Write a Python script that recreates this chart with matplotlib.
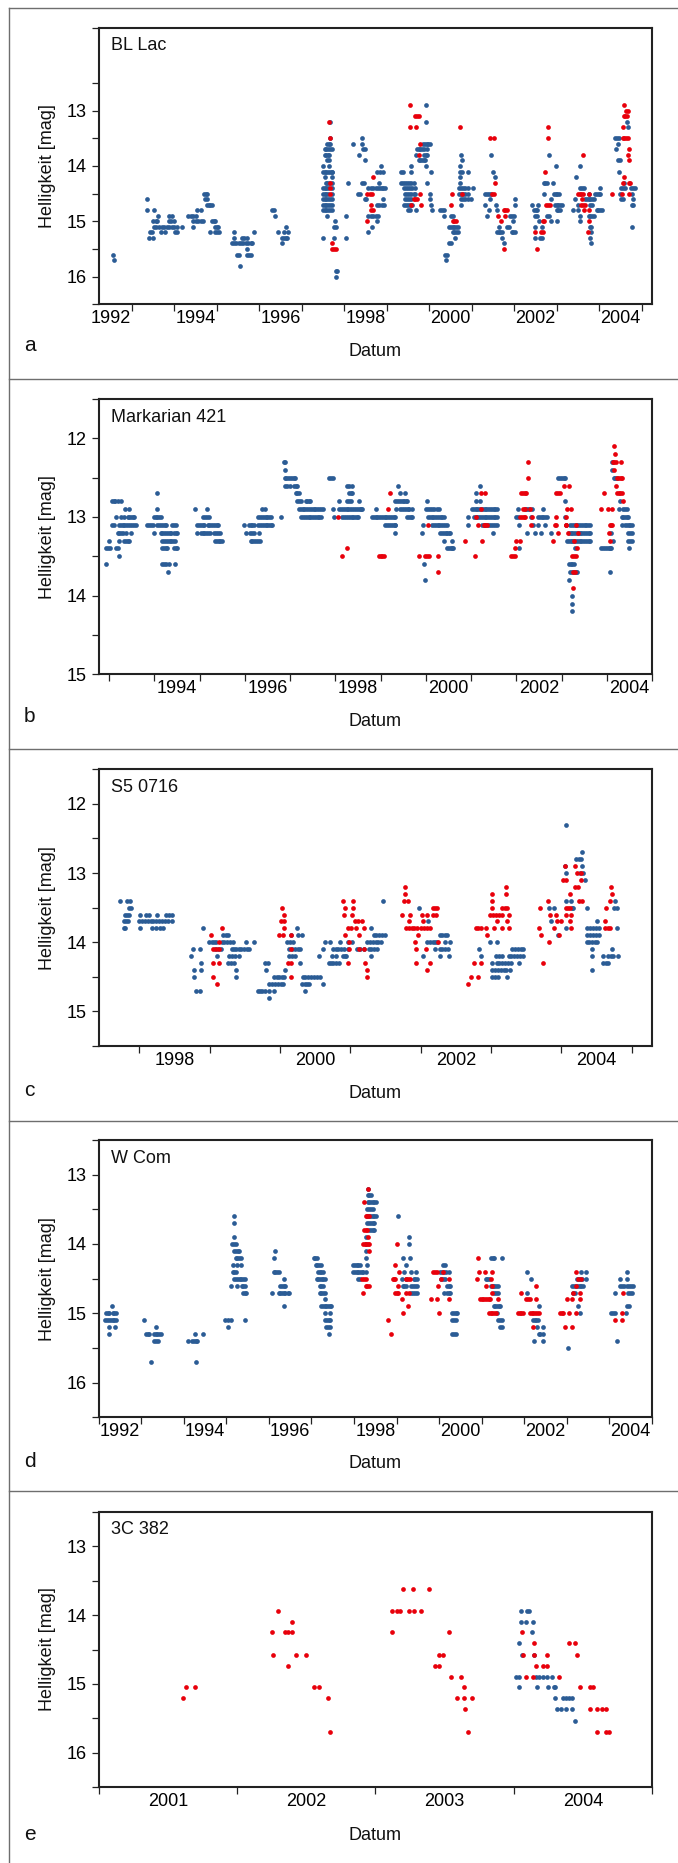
import numpy as np
import matplotlib
matplotlib.use("Agg")
import matplotlib.pyplot as plt
from matplotlib.lines import Line2D

plt.rcParams['font.family'] = ['Liberation Sans', 'DejaVu Sans']

# ---------------------------------------------------------------------------
# Light-curve data: each row is (magnitude, [observation dates in years])
# ---------------------------------------------------------------------------

# --- BL Lac ---
bllac_blue = [
    (15.6, [1992.57]), (15.7, [1992.59]),
    (14.6, [1993.35]), (14.8, [1993.36, 1993.52]),
    (14.9, [1993.61, 1993.87, 1993.94]),
    (15.0, [1993.50, 1993.56, 1993.60, 1993.87, 1993.93, 1993.99]),
    (15.1, [1993.52, 1993.58, 1993.64, 1993.70, 1993.76, 1993.82, 1993.88, 1993.94, 1994.00, 1994.06, 1994.19]),
    (15.2, [1993.44, 1993.48, 1993.68, 1993.78, 1994.01, 1994.07]),
    (15.3, [1993.40, 1993.50]),
    (14.5, [1994.70, 1994.74, 1994.77]), (14.6, [1994.73, 1994.78]),
    (14.7, [1994.77, 1994.81, 1994.85, 1994.89]), (14.8, [1994.54, 1994.63]),
    (14.9, [1994.33, 1994.40, 1994.45, 1994.52]),
    (15.0, [1994.45, 1994.50, 1994.56, 1994.62, 1994.68, 1994.89, 1994.93, 1994.97]),
    (15.1, [1994.45, 1994.95, 1995.00, 1995.03]),
    (15.2, [1994.84, 1994.97, 1995.01, 1995.05]),
    (15.2, [1995.41, 1995.88]), (15.3, [1995.41, 1995.60, 1995.64, 1995.72]),
    (15.4, [1995.36, 1995.41, 1995.46, 1995.52, 1995.57, 1995.62, 1995.68, 1995.74, 1995.80, 1995.84]),
    (15.5, [1995.72]), (15.6, [1995.48, 1995.52, 1995.72, 1995.76, 1995.80]), (15.8, [1995.55]),
    (14.8, [1996.30, 1996.34]), (14.9, [1996.36]), (15.1, [1996.64]),
    (15.2, [1996.45, 1996.58, 1996.68]), (15.3, [1996.53, 1996.58, 1996.62, 1996.66]), (15.4, [1996.54]),
    (13.2, [1997.66]), (13.5, [1997.66]), (13.6, [1997.60, 1997.64, 1997.66]),
    (13.7, [1997.54, 1997.58, 1997.62, 1997.66, 1997.70]),
    (13.8, [1997.54, 1997.58, 1997.62, 1997.64]), (13.9, [1997.60, 1997.64]),
    (14.0, [1997.50, 1997.64]),
    (14.1, [1997.50, 1997.54, 1997.58, 1997.62, 1997.66, 1997.70, 1997.72]),
    (14.2, [1997.54, 1997.70]), (14.3, [1997.56, 1997.60, 1997.64, 1997.70]),
    (14.4, [1997.50, 1997.54, 1997.58, 1997.62, 1997.70]),
    (14.5, [1997.50, 1997.54, 1997.58, 1997.62, 1997.70]),
    (14.6, [1997.50, 1997.54, 1997.58, 1997.62, 1997.66, 1997.70]),
    (14.7, [1997.50, 1997.54, 1997.58, 1997.62, 1997.66, 1997.70]),
    (14.8, [1997.50, 1997.54, 1997.58, 1997.62, 1997.66, 1997.70]),
    (14.9, [1997.60]), (15.0, [1997.78]), (15.1, [1997.76, 1997.80]), (15.3, [1997.50, 1997.76]),
    (15.9, [1997.80, 1997.83]), (16.0, [1997.81]),
    (13.5, [1998.41]), (13.6, [1998.20, 1998.41]), (13.7, [1998.45, 1998.48]), (13.8, [1998.34]),
    (13.9, [1998.48]), (14.0, [1998.87]), (14.1, [1998.77, 1998.83, 1998.90]),
    (14.3, [1998.09, 1998.41, 1998.46, 1998.81]),
    (14.4, [1998.56, 1998.62, 1998.68, 1998.74, 1998.80, 1998.84, 1998.88, 1998.92, 1998.95]),
    (14.5, [1998.33, 1998.36]), (14.6, [1998.48, 1998.52, 1998.92]),
    (14.7, [1998.76, 1998.82, 1998.88, 1998.94]),
    (14.9, [1998.05, 1998.56, 1998.62, 1998.68, 1998.74, 1998.80]),
    (15.0, [1998.77]), (15.1, [1998.66]), (15.2, [1998.56]), (15.3, [1998.05]),
    (12.9, [1999.92]), (13.2, [1999.92]),
    (13.6, [1999.86, 1999.90, 1999.94, 1999.98, 2000.02]),
    (13.7, [1999.71, 1999.75, 1999.79, 1999.83, 1999.87, 1999.94]),
    (13.8, [1999.69, 1999.87, 1999.92, 1999.94]),
    (13.9, [1999.75, 1999.79, 1999.83, 1999.88, 1999.91]),
    (14.0, [1999.58, 1999.92]), (14.1, [1999.34, 1999.38, 1999.56, 2000.05]),
    (14.3, [1999.34, 1999.38, 1999.43, 1999.48, 1999.53, 1999.58, 1999.63, 1999.94]),
    (14.4, [1999.40, 1999.45, 1999.50, 1999.55, 1999.60, 1999.67]),
    (14.5, [1999.43, 1999.48, 1999.53, 1999.58, 1999.63, 1999.67, 2000.01]),
    (14.6, [1999.43, 1999.47, 1999.52, 1999.57, 2000.02]),
    (14.7, [1999.40, 1999.45, 1999.50, 1999.55, 1999.60, 2000.04]),
    (14.8, [1999.50, 1999.55, 1999.69, 2000.06]),
    (13.8, [2000.75]), (13.9, [2000.77]), (14.0, [2000.73]), (14.1, [2000.73, 2000.77, 2000.91]),
    (14.2, [2000.73]), (14.3, [2000.73]),
    (14.4, [2000.70, 2000.75, 2000.80, 2000.85, 2000.91, 2001.04]),
    (14.5, [2000.70, 2000.75, 2000.80, 2000.85, 2000.91]),
    (14.6, [2000.75, 2000.80, 2000.85, 2000.91, 2000.99]), (14.7, [2000.75]),
    (14.8, [2000.26, 2000.30, 2000.34]), (14.9, [2000.34, 2000.51, 2000.55]),
    (15.1, [2000.47, 2000.51, 2000.55, 2000.59, 2000.63, 2000.67]),
    (15.2, [2000.55, 2000.59, 2000.63, 2000.67]), (15.3, [2000.60]),
    (15.4, [2000.47, 2000.51]), (15.6, [2000.38, 2000.42]), (15.7, [2000.40]),
    (13.8, [2001.45]), (14.1, [2001.50]), (14.2, [2001.55]),
    (14.5, [2001.32, 2001.36, 2001.40, 2001.45]), (14.6, [2001.43, 2002.01]),
    (14.7, [2001.30, 2001.57, 2002.01]), (14.8, [2001.40, 2001.59]),
    (14.9, [2001.36, 2001.91, 2001.95, 2001.99]), (15.0, [2001.98]),
    (15.1, [2001.65, 2001.82, 2001.87]),
    (15.2, [2001.59, 2001.63, 2001.67, 2001.71, 2001.94, 2001.98, 2002.02]),
    (15.3, [2001.71]), (15.4, [2001.75]),
    (13.8, [2002.82]), (14.0, [2002.98]), (14.3, [2002.69, 2002.73, 2002.77, 2002.91]),
    (14.5, [2002.69, 2002.93, 2002.97, 2003.01, 2003.05]), (14.6, [2002.86]),
    (14.7, [2002.42, 2002.55, 2002.96, 2003.00, 2003.04, 2003.08, 2003.12]),
    (14.8, [2002.46, 2002.50, 2002.54, 2003.00, 2003.04, 2003.08]),
    (14.9, [2002.49, 2002.53, 2002.77, 2002.81]), (15.0, [2002.57, 2002.86, 2003.00]),
    (15.1, [2002.49, 2002.65]), (15.3, [2002.48, 2002.61, 2002.65]),
    (14.0, [2003.55]), (14.2, [2003.45]), (14.4, [2003.55, 2003.59, 2003.63, 2004.02]),
    (14.5, [2003.76, 2003.91, 2003.95, 2003.99, 2004.02]),
    (14.6, [2003.42, 2003.67, 2003.71, 2003.75, 2003.79, 2003.83, 2003.87]),
    (14.7, [2003.51, 2003.79, 2003.84]),
    (14.8, [2003.38, 2003.51, 2003.94, 2003.98, 2004.02, 2004.06]),
    (14.9, [2003.55, 2003.75, 2003.79, 2003.83, 2003.87]), (15.0, [2003.55]),
    (15.1, [2003.77, 2003.81]), (15.2, [2003.81]), (15.3, [2003.79]), (15.4, [2003.81]),
    (13.2, [2004.65]), (13.3, [2004.67]), (13.5, [2004.38, 2004.42, 2004.46]),
    (13.6, [2004.43]), (13.7, [2004.40]), (13.9, [2004.45, 2004.49]), (14.1, [2004.47]),
    (14.3, [2004.57]), (14.4, [2004.52, 2004.56, 2004.60, 2004.75, 2004.79, 2004.85]),
    (14.5, [2004.49, 2004.77]), (14.6, [2004.52, 2004.56, 2004.79]),
    (14.7, [2004.77, 2004.79]), (15.1, [2004.78]),
]
bllac_red = [
    (13.2, [1997.64]), (13.5, [1997.67]), (14.3, [1997.67]), (14.4, [1997.66]), (14.5, [1997.66]),
    (15.4, [1997.72]), (15.5, [1997.72, 1997.76, 1997.81]),
    (14.2, [1998.68]), (14.5, [1998.54, 1998.60, 1998.66]), (14.7, [1998.64]),
    (14.8, [1998.62, 1998.68]), (15.0, [1998.54]),
    (12.9, [1999.54]), (13.1, [1999.67, 1999.72, 1999.76]), (13.3, [1999.54, 1999.69]),
    (13.6, [1999.77]), (13.8, [1999.75]), (14.5, [1999.79]),
    (14.6, [1999.63, 1999.67, 1999.71]), (14.7, [1999.58, 1999.81]),
    (13.3, [2000.73]), (14.5, [2000.53, 2000.78]), (14.7, [2000.52]),
    (15.0, [2000.55, 2000.59, 2000.63]),
    (13.5, [2001.43, 2001.52]), (14.3, [2001.55]), (14.5, [2001.47, 2001.52]),
    (14.8, [2001.75, 2001.79, 2001.83]), (14.9, [2001.61, 2001.77]), (15.0, [2001.69]), (15.5, [2001.75]),
    (13.3, [2002.79]), (13.5, [2002.79]), (14.1, [2002.73]), (14.7, [2002.75, 2002.79, 2002.83]),
    (15.0, [2002.67, 2002.71]), (15.2, [2002.49, 2002.63, 2002.67]), (15.5, [2002.53]),
    (13.8, [2003.62]), (14.5, [2003.50, 2003.54, 2003.58, 2003.62, 2003.75]), (14.6, [2003.59]),
    (14.7, [2003.58, 2003.62, 2003.66]), (14.8, [2003.65, 2003.76]), (15.0, [2003.76]), (15.2, [2003.73]),
    (12.9, [2004.59]), (13.0, [2004.63, 2004.67]), (13.1, [2004.57, 2004.61, 2004.66]),
    (13.3, [2004.55]), (13.5, [2004.55, 2004.59, 2004.63, 2004.67]), (13.7, [2004.69]),
    (13.8, [2004.68]), (13.9, [2004.69]), (14.2, [2004.57]), (14.3, [2004.55, 2004.69, 2004.73]),
    (14.5, [2004.30, 2004.53, 2004.71]),
]

# --- Markarian 421 ---
mrk421_blue = [
    (13.6, [1992.94]), (13.4, [1992.93, 1992.98, 1993.03, 1993.15, 1993.20]),
    (13.3, [1993.00, 1993.22, 1993.33, 1993.37, 1993.41, 1993.44]),
    (12.8, [1993.06, 1993.10, 1993.14, 1993.19, 1993.26]),
    (13.1, [1993.06, 1993.11, 1993.22, 1993.26, 1993.30, 1993.34, 1993.38, 1993.42, 1993.46, 1993.50, 1993.55, 1993.59]),
    (13.0, [1993.16, 1993.26, 1993.33, 1993.41, 1993.45, 1993.49, 1993.52, 1993.55]),
    (12.9, [1993.36, 1993.44]), (13.2, [1993.19, 1993.23, 1993.27, 1993.30, 1993.37, 1993.48]),
    (13.5, [1993.22]),
    (12.7, [1994.07]), (12.9, [1994.07]), (13.0, [1993.99, 1994.03, 1994.07, 1994.11, 1994.14]),
    (13.1, [1993.85, 1993.89, 1993.93, 1993.97, 1994.07, 1994.11, 1994.15, 1994.19, 1994.23, 1994.25, 1994.39, 1994.43, 1994.47]),
    (13.2, [1993.99, 1994.14, 1994.18, 1994.22, 1994.26, 1994.30, 1994.34, 1994.37, 1994.44, 1994.48, 1994.51]),
    (13.3, [1994.18, 1994.22, 1994.26, 1994.30, 1994.34, 1994.38, 1994.42, 1994.46]),
    (13.4, [1994.18, 1994.22, 1994.26, 1994.29, 1994.44, 1994.48, 1994.51]),
    (13.6, [1994.18, 1994.22, 1994.26, 1994.33, 1994.46]), (13.7, [1994.30]),
    (12.9, [1994.90, 1995.16]), (13.0, [1995.08, 1995.12, 1995.16, 1995.20]),
    (13.1, [1994.95, 1994.99, 1995.03, 1995.07, 1995.10, 1995.18, 1995.22, 1995.26, 1995.30, 1995.34, 1995.38, 1995.40]),
    (13.2, [1994.95, 1995.03, 1995.07, 1995.11, 1995.15, 1995.19, 1995.23, 1995.32, 1995.36, 1995.40, 1995.45]),
    (13.3, [1995.34, 1995.38, 1995.42, 1995.46, 1995.50]),
    (13.1, [1995.99, 1996.09, 1996.13, 1996.17, 1996.20]),
    (13.2, [1996.02, 1996.11, 1996.15, 1996.20, 1996.32]),
    (13.3, [1996.13, 1996.17, 1996.21, 1996.25, 1996.29, 1996.33]),
    (13.1, [1996.30, 1996.34, 1996.38, 1996.42, 1996.46, 1996.50, 1996.54, 1996.58, 1996.60]),
    (13.0, [1996.30, 1996.34, 1996.38, 1996.42, 1996.46, 1996.50, 1996.54, 1996.57]),
    (12.9, [1996.39, 1996.45]),
    (13.0, [1996.81]), (12.3, [1996.86, 1996.90]), (12.4, [1996.90]),
    (12.5, [1996.88, 1996.92, 1996.96, 1997.00, 1997.04, 1997.08, 1997.12]),
    (12.6, [1996.90, 1996.94, 1996.99, 1997.09, 1997.13, 1997.16]),
    (12.7, [1997.13, 1997.16, 1997.20]),
    (12.8, [1997.16, 1997.20, 1997.24, 1997.35, 1997.38, 1997.42, 1997.45]),
    (12.9, [1997.20, 1997.24, 1997.28, 1997.32, 1997.36, 1997.40, 1997.44, 1997.48, 1997.52, 1997.56, 1997.60, 1997.64, 1997.68, 1997.72]),
    (13.0, [1997.25, 1997.29, 1997.33, 1997.37, 1997.41, 1997.45, 1997.49, 1997.53, 1997.57, 1997.61, 1997.64, 1997.68]),
    (12.5, [1997.86, 1997.90, 1997.94]),
    (12.9, [1997.94, 1998.09, 1998.13, 1998.17, 1998.21, 1998.25, 1998.29, 1998.32, 1998.38, 1998.42, 1998.46, 1998.50, 1998.54, 1998.58, 1998.60]),
    (12.8, [1998.09, 1998.27, 1998.31, 1998.35, 1998.52]), (12.6, [1998.27, 1998.31, 1998.36]),
    (12.7, [1998.30, 1998.34, 1998.38]),
    (13.0, [1997.97, 1998.16, 1998.20, 1998.24, 1998.28, 1998.32, 1998.36, 1998.40, 1998.44, 1998.48, 1998.51]),
    (12.9, [1998.89, 1999.34, 1999.44, 1999.48, 1999.52, 1999.56, 1999.60, 1999.64, 1999.70]),
    (13.0, [1998.81, 1998.85, 1998.89, 1998.93, 1998.97, 1999.01, 1999.05, 1999.09, 1999.13, 1999.17, 1999.21, 1999.25, 1999.29, 1999.33, 1999.59, 1999.63, 1999.67, 1999.70]),
    (13.1, [1999.11, 1999.15, 1999.19, 1999.23, 1999.27, 1999.31, 1999.33]), (13.2, [1999.31]),
    (12.6, [1999.39]), (12.7, [1999.44, 1999.55]),
    (12.8, [1999.33, 1999.37, 1999.41, 1999.45, 1999.49, 1999.53, 1999.57, 1999.59]),
    (13.2, [1999.92]), (13.6, [1999.97]), (13.8, [1999.98]),
    (13.1, [1999.94, 2000.14, 2000.18, 2000.22, 2000.26, 2000.30, 2000.34, 2000.38, 2000.42, 2000.47]),
    (12.8, [2000.03]), (12.9, [2000.00, 2000.05, 2000.09, 2000.14, 2000.19, 2000.24, 2000.29]),
    (13.0, [2000.05, 2000.09, 2000.13, 2000.17, 2000.21, 2000.25, 2000.29, 2000.33, 2000.37, 2000.40]),
    (13.2, [2000.32, 2000.36, 2000.40, 2000.44, 2000.48, 2000.52, 2000.54]),
    (13.3, [2000.40, 2000.57]), (13.4, [2000.47, 2000.51, 2000.55, 2000.59, 2000.61]),
    (13.1, [2000.94, 2001.24, 2001.28, 2001.32, 2001.36, 2001.40, 2001.44, 2001.48, 2001.52, 2001.57]),
    (13.0, [2000.93, 2001.06, 2001.10, 2001.14, 2001.18, 2001.22, 2001.26, 2001.30, 2001.34, 2001.38, 2001.42, 2001.46, 2001.50, 2001.54, 2001.57]),
    (12.9, [2001.02, 2001.06, 2001.10, 2001.14, 2001.18, 2001.22, 2001.26, 2001.30, 2001.34, 2001.38, 2001.42, 2001.46, 2001.50, 2001.54, 2001.57]),
    (12.8, [2001.12, 2001.20]), (12.7, [2001.12]), (12.6, [2001.19]), (13.2, [2001.48]),
    (13.4, [2002.07]), (13.1, [2002.07, 2002.38, 2002.49, 2002.64]),
    (12.9, [2002.03, 2002.20, 2002.24, 2002.29, 2002.35, 2002.60]),
    (13.0, [2002.00, 2002.04, 2002.33, 2002.48, 2002.52, 2002.56, 2002.60, 2002.64, 2002.68]),
    (13.2, [2002.24, 2002.42, 2002.54]),
    (12.5, [2002.93, 2002.97, 2003.01, 2003.05, 2003.08]), (12.8, [2003.08]), (13.0, [2003.08]),
    (13.2, [2002.77, 2003.16, 2003.20, 2003.24, 2003.28, 2003.32, 2003.36, 2003.40, 2003.44, 2003.48, 2003.52, 2003.56, 2003.60, 2003.64]),
    (13.1, [2003.10, 2003.19, 2003.23, 2003.27, 2003.31, 2003.35, 2003.39, 2003.43, 2003.47, 2003.51, 2003.55, 2003.59, 2003.64]),
    (13.3, [2003.12, 2003.16, 2003.20, 2003.24, 2003.28, 2003.32, 2003.36, 2003.40, 2003.44, 2003.48, 2003.52, 2003.56, 2003.60, 2003.64]),
    (13.4, [2003.30]), (13.6, [2003.16, 2003.20, 2003.24, 2003.27]),
    (13.7, [2003.19, 2003.23, 2003.27, 2003.31, 2003.34]), (13.8, [2003.16]),
    (14.0, [2003.24]), (14.1, [2003.24]), (14.2, [2003.24]),
    (13.4, [2003.88, 2003.92, 2003.96, 2004.00, 2004.04, 2004.08, 2004.10, 2004.50]),
    (13.7, [2004.07]), (13.2, [2004.10, 2004.48, 2004.52, 2004.55]),
    (13.3, [2004.13, 2004.48, 2004.52, 2004.55]), (12.3, [2004.11]), (12.4, [2004.11]),
    (12.5, [2004.15, 2004.19, 2004.22]), (12.8, [2004.30]),
    (12.9, [2004.26, 2004.37, 2004.41, 2004.45]), (13.0, [2004.33, 2004.37, 2004.41, 2004.45, 2004.48]),
    (13.1, [2004.33, 2004.41, 2004.45, 2004.49, 2004.52, 2004.55]),
]
mrk421_red = [
    (13.0, [1998.07]), (13.4, [1998.27]), (13.5, [1998.14]),
    (13.5, [1998.96, 1999.00, 1999.03, 1999.07]), (12.7, [1999.22]), (12.9, [1999.16]),
    (13.5, [1999.84, 1999.99, 2000.03, 2000.08, 2000.26]), (13.7, [2000.26]), (13.1, [2000.04]),
    (13.3, [2000.87, 2001.25]), (12.7, [2001.23, 2001.32]), (12.9, [2001.22]), (13.0, [2001.12]),
    (13.1, [2001.15, 2001.28, 2001.32, 2001.35]), (13.5, [2001.08]),
    (13.5, [2001.89, 2001.93, 2001.98]), (13.4, [2001.98]), (13.3, [2001.99, 2002.09]),
    (13.0, [2002.09, 2002.13, 2002.17, 2002.20, 2002.35]), (12.7, [2002.11, 2002.15, 2002.19, 2002.21]),
    (12.9, [2002.16, 2002.20, 2002.30]), (12.3, [2002.27]), (12.5, [2002.27]), (13.1, [2002.32]),
    (12.6, [2003.05, 2003.17]), (12.7, [2002.88, 2002.92, 2002.97]), (12.9, [2003.12, 2003.21]),
    (13.0, [2002.88, 2003.11]), (13.1, [2002.85, 2002.87, 2003.09, 2003.11, 2003.32]),
    (13.2, [2002.92, 2003.14, 2003.36]), (13.3, [2002.81, 2003.27]), (13.4, [2003.34]),
    (13.5, [2003.23, 2003.27, 2003.32]), (13.7, [2003.26, 2003.30]), (13.9, [2003.25]),
    (12.1, [2004.17]), (12.2, [2004.19]), (12.3, [2004.13, 2004.17, 2004.21, 2004.32]),
    (12.4, [2004.15]), (12.5, [2004.23, 2004.27, 2004.31, 2004.34]), (12.6, [2004.21]),
    (12.7, [2003.93, 2004.22, 2004.26, 2004.30, 2004.33]), (12.8, [2004.35]),
    (12.9, [2003.87, 2004.02, 2004.11]), (13.1, [2004.07, 2004.09, 2004.11]),
    (13.2, [2004.05]), (13.3, [2004.08]),
]

# --- S5 0716 ---
s50716_blue = [
    (13.4, [1997.73, 1997.83, 1997.86]), (13.5, [1997.85, 1997.88]),
    (13.6, [1997.80, 1997.83, 1997.85, 1998.01, 1998.10, 1998.14, 1998.25, 1998.38, 1998.42, 1998.46]),
    (13.7, [1997.78, 1997.81, 1997.84, 1998.00, 1998.04, 1998.08, 1998.12, 1998.16, 1998.20, 1998.24, 1998.28, 1998.32, 1998.36, 1998.40, 1998.46]),
    (13.8, [1997.78, 1997.80, 1998.01, 1998.18, 1998.23, 1998.29, 1998.33]),
    (13.8, [1998.91]),
    (14.0, [1998.99, 1999.03, 1999.06, 1999.09, 1999.17, 1999.21, 1999.25, 1999.29, 1999.33, 1999.51, 1999.63]),
    (13.9, [1999.19, 1999.23, 1999.26]),
    (14.1, [1998.76, 1998.86, 1999.08, 1999.12, 1999.16, 1999.31, 1999.35, 1999.38, 1999.41, 1999.45, 1999.49, 1999.53, 1999.56]),
    (14.2, [1998.73, 1999.11, 1999.27, 1999.31, 1999.36, 1999.41]),
    (14.3, [1998.88, 1999.26, 1999.30, 1999.34]), (14.4, [1998.78, 1998.87, 1999.37]),
    (14.5, [1998.78, 1999.38]), (14.7, [1998.81, 1998.86]),
    (14.7, [1999.69, 1999.72, 1999.75, 1999.79, 1999.84, 1999.91]), (14.8, [1999.85]),
    (14.4, [1999.80, 2000.07]), (14.3, [1999.79, 1999.83]),
    (14.6, [1999.85, 1999.89, 1999.93, 1999.97, 2000.01, 2000.04, 2000.31, 2000.35, 2000.39, 2000.41, 2000.61]),
    (14.5, [1999.91, 1999.95, 1999.99, 2000.03, 2000.06, 2000.32, 2000.36, 2000.40, 2000.44, 2000.49, 2000.53, 2000.57]),
    (14.2, [2000.13, 2000.17, 2000.21]), (14.0, [2000.10, 2000.14, 2000.19]),
    (13.9, [2000.16, 2000.25, 2000.31]), (13.8, [2000.24]),
    (14.1, [2000.13, 2000.17, 2000.21, 2000.25, 2000.29]), (14.3, [2000.28]), (14.7, [2000.35]),
    (14.2, [2000.55, 2000.74, 2000.79, 2000.89, 2000.92, 2000.94, 2001.29]),
    (14.1, [2000.61, 2000.75, 2000.79, 2000.83, 2000.87, 2000.91, 2000.96, 2001.09, 2001.14, 2001.19, 2001.26, 2001.30, 2001.34, 2001.38]),
    (14.0, [2000.64, 2000.71, 2000.86, 2000.96, 2001.02, 2001.24, 2001.28, 2001.32, 2001.36, 2001.40, 2001.44]),
    (14.3, [2000.69, 2000.72, 2000.75, 2000.79, 2000.84]),
    (13.9, [2001.33, 2001.37, 2001.41, 2001.45, 2001.50]), (13.8, [2001.30]), (13.4, [2001.46]),
    (13.5, [2001.98]), (13.7, [2002.10]), (14.2, [2002.04]),
    (14.0, [2002.09, 2002.13, 2002.17, 2002.21, 2002.23, 2002.35, 2002.42]),
    (14.1, [2002.21, 2002.27, 2002.31, 2002.35, 2002.39]), (14.2, [2002.28, 2002.41]),
    (13.9, [2002.27, 2002.31, 2002.35, 2002.37]),
    (14.1, [2002.83, 2003.30, 2003.34, 2003.38, 2003.42, 2003.45]),
    (14.2, [2002.86, 2003.07, 2003.11, 2003.15, 2003.25, 2003.29, 2003.33, 2003.37, 2003.41, 2003.45]),
    (14.0, [2002.98, 2003.09]),
    (14.3, [2003.02, 2003.08, 2003.12, 2003.16, 2003.20, 2003.24, 2003.28, 2003.40]),
    (14.4, [2003.02, 2003.06, 2003.10, 2003.14, 2003.18, 2003.22, 2003.27]),
    (14.5, [2003.02, 2003.06, 2003.10, 2003.23]),
    (12.3, [2004.06]), (12.7, [2004.30]), (12.8, [2004.21, 2004.25, 2004.28]),
    (12.9, [2004.05, 2004.30]), (13.0, [2004.06, 2004.27, 2004.31]), (13.1, [2004.34]),
    (13.4, [2004.06, 2004.14, 2004.76]),
    (13.5, [2003.82, 2003.90, 2004.15, 2004.17, 2004.37, 2004.75, 2004.79]),
    (13.7, [2003.85, 2004.51]),
    (13.8, [2004.07, 2004.37, 2004.41, 2004.45, 2004.49, 2004.53, 2004.79]),
    (13.9, [2003.96, 2004.37, 2004.41, 2004.45, 2004.49, 2004.53]),
    (14.0, [2004.36, 2004.40, 2004.44, 2004.48, 2004.51]), (14.1, [2004.43, 2004.72]),
    (14.2, [2004.43, 2004.60, 2004.67, 2004.71, 2004.74, 2004.81]),
    (14.3, [2004.60, 2004.64, 2004.67]), (14.4, [2004.43]),
]
s50716_red = [
    (13.9, [1999.02]), (13.8, [1999.17]), (14.0, [1999.13]), (14.1, [1999.04, 1999.09, 1999.13]),
    (14.3, [1999.04, 1999.13]), (14.5, [1999.04]), (14.6, [1999.10]),
    (13.5, [2000.03]), (13.6, [2000.06]), (13.7, [2000.01, 2000.06]), (13.8, [2000.05]),
    (13.9, [1999.99, 2000.04, 2000.16]), (14.1, [2000.16]), (14.3, [2000.11, 2000.16]), (14.5, [2000.16]),
    (13.4, [2000.90, 2001.04]), (13.5, [2000.92, 2001.04]), (13.6, [2000.91, 2001.03]),
    (13.7, [2001.07, 2001.11, 2001.16]), (13.8, [2000.97, 2001.01, 2001.08, 2001.19]),
    (13.9, [2000.92, 2001.12]), (14.0, [2000.98]), (14.1, [2000.98, 2001.13, 2001.20]),
    (14.3, [2000.96, 2001.21]), (14.4, [2001.23]), (14.5, [2001.24]),
    (13.2, [2001.78]), (13.3, [2001.78]), (13.4, [2001.77, 2001.82]), (13.5, [2002.18, 2002.21, 2002.23]),
    (13.6, [2001.74, 2001.85, 2002.02, 2002.09, 2002.17, 2002.22]), (13.7, [2001.83, 2002.04]),
    (13.8, [2001.79, 2001.83, 2001.87, 2001.91, 2001.95, 2002.01, 2002.05, 2002.09, 2002.14]),
    (13.9, [2001.96]), (14.0, [2001.92, 2002.24]), (14.1, [2001.93, 2002.07]),
    (14.3, [2001.93, 2002.14]), (14.4, [2002.09]),
    (14.6, [2002.68]), (14.5, [2002.71, 2002.82]), (14.3, [2002.76, 2002.86]),
    (13.8, [2002.78, 2002.82, 2002.86, 2002.93, 2003.05, 2003.15, 2003.25]), (13.9, [2002.94]),
    (13.3, [2003.01, 2003.22]), (13.4, [2003.01]), (13.5, [2003.01, 2003.16, 2003.20, 2003.23]),
    (13.6, [2002.99, 2003.03, 2003.07, 2003.11, 2003.15, 2003.25]), (13.7, [2003.08, 2003.23]),
    (13.2, [2003.22]),
    (14.3, [2003.74]), (13.5, [2003.70]), (13.8, [2003.68, 2003.89, 2004.14, 2004.62, 2004.66, 2004.69]),
    (13.9, [2003.71, 2003.97]), (13.4, [2003.81, 2004.25, 2004.29, 2004.69]),
    (13.6, [2003.84, 2003.92, 2004.07, 2004.14]), (14.0, [2003.83]),
    (13.7, [2003.94, 2003.99, 2004.12, 2004.62]), (13.1, [2004.03, 2004.07, 2004.28]),
    (12.9, [2004.05, 2004.20]), (13.3, [2004.12, 2004.72]), (13.5, [2004.07, 2004.10, 2004.12, 2004.64]),
    (13.0, [2004.22, 2004.28]), (13.2, [2004.20, 2004.24, 2004.70]),
]

# --- W Com ---
wcom_blue = [
    (14.9, [1992.31]), (15.0, [1992.17, 1992.21, 1992.25, 1992.33, 1992.37, 1992.41]),
    (15.1, [1992.16, 1992.20, 1992.24, 1992.28, 1992.33, 1992.37, 1992.41]),
    (15.2, [1992.24, 1992.39]), (15.3, [1992.24]),
    (15.1, [1993.07]), (15.2, [1993.36]),
    (15.3, [1993.11, 1993.15, 1993.19, 1993.30, 1993.34, 1993.38, 1993.42, 1993.46]),
    (15.4, [1993.31, 1993.35, 1993.39]), (15.7, [1993.23]),
    (15.4, [1994.11, 1994.19, 1994.24, 1994.28, 1994.32]), (15.3, [1994.26, 1994.45]), (15.7, [1994.29]),
    (15.1, [1994.98, 1995.03, 1995.11, 1995.43]), (15.2, [1995.03]),
    (13.6, [1995.18]), (13.7, [1995.18]), (13.9, [1995.18]), (14.0, [1995.13, 1995.18, 1995.22]),
    (14.1, [1995.19, 1995.23, 1995.27, 1995.30]), (14.2, [1995.22, 1995.26, 1995.30, 1995.34]),
    (14.3, [1995.15, 1995.25, 1995.35]), (14.4, [1995.15, 1995.19, 1995.23]),
    (14.5, [1995.19, 1995.23, 1995.27, 1995.31, 1995.35, 1995.39, 1995.44]),
    (14.6, [1995.11, 1995.25, 1995.36, 1995.40, 1995.44]), (14.7, [1995.40, 1995.43, 1995.46]),
    (14.1, [1996.15]), (14.2, [1996.13]), (14.4, [1996.11, 1996.15, 1996.19, 1996.23]), (14.5, [1996.36]),
    (14.6, [1996.27, 1996.31, 1996.35, 1996.39]),
    (14.7, [1996.08, 1996.23, 1996.27, 1996.31, 1996.35, 1996.39, 1996.44, 1996.48]), (14.9, [1996.36]),
    (14.2, [1997.05, 1997.09, 1997.13]), (14.3, [1997.10, 1997.14, 1997.18, 1997.22]),
    (14.4, [1997.15, 1997.19, 1997.23, 1997.27]),
    (14.5, [1997.12, 1997.16, 1997.20, 1997.24, 1997.28, 1997.31]),
    (14.6, [1997.19, 1997.23, 1997.27]), (14.7, [1997.19, 1997.23, 1997.27, 1997.31]), (14.8, [1997.31]),
    (14.9, [1997.23, 1997.27, 1997.31, 1997.35, 1997.39, 1997.43, 1997.47]), (15.0, [1997.31, 1997.44]),
    (15.1, [1997.33, 1997.37, 1997.41, 1997.44]), (15.2, [1997.35, 1997.39, 1997.44]), (15.3, [1997.41]),
    (14.3, [1997.98, 1998.02, 1998.06, 1998.10, 1998.14, 1998.31]),
    (14.4, [1997.98, 1998.02, 1998.06, 1998.10, 1998.14, 1998.18, 1998.22, 1998.27]),
    (14.5, [1998.09, 1998.14]), (13.2, [1998.33]), (13.3, [1998.32, 1998.36, 1998.39]),
    (13.4, [1998.32, 1998.36, 1998.40, 1998.44, 1998.48, 1998.52]),
    (13.5, [1998.31, 1998.35, 1998.39, 1998.44]),
    (13.6, [1998.31, 1998.35, 1998.40, 1998.44, 1998.48, 1998.52]),
    (13.7, [1998.31, 1998.35, 1998.39, 1998.44, 1998.48]), (13.8, [1998.35, 1998.39, 1998.44, 1998.48]),
    (13.9, [1998.27]), (14.0, [1998.27]), (14.1, [1998.27]), (14.2, [1998.27]),
    (13.6, [1999.03]), (13.9, [1999.29]), (14.0, [1999.29]), (14.2, [1999.14, 1999.32]), (14.3, [1999.22]),
    (14.4, [1999.18, 1999.35, 1999.46]), (14.5, [1999.12, 1999.22, 1999.41, 1999.44, 1999.47]),
    (14.6, [1999.14, 1999.18, 1999.22, 1999.35, 1999.39, 1999.43, 1999.47]),
    (14.7, [1999.35, 1999.39, 1999.43, 1999.47]),
    (14.3, [2000.10, 2000.14]), (14.4, [2000.01, 2000.06, 2000.11, 2000.16, 2000.22]),
    (14.5, [2000.05, 2000.10, 2000.14]), (14.6, [2000.18, 2000.22, 2000.26]),
    (14.7, [2000.12, 2000.18, 2000.22, 2000.26]), (15.0, [2000.30, 2000.35, 2000.39, 2000.43]),
    (15.1, [2000.30, 2000.35, 2000.39]), (15.3, [2000.30, 2000.35, 2000.39]),
    (14.2, [2001.22, 2001.26, 2001.30, 2001.47]), (14.5, [2001.09, 2001.13, 2001.17]),
    (14.6, [2001.22, 2001.26, 2001.30, 2001.34, 2001.39]), (14.7, [2001.30, 2001.34, 2001.39]),
    (14.9, [2001.28, 2001.32, 2001.36, 2001.40, 2001.43]), (15.0, [2001.37]),
    (15.1, [2001.39, 2001.43, 2001.47]), (15.2, [2001.43, 2001.47]),
    (14.4, [2002.07]), (14.5, [2002.15]), (14.7, [2002.07]), (14.9, [2002.34]),
    (15.1, [2002.20, 2002.24, 2002.28, 2002.32]), (15.2, [2002.30, 2002.43]),
    (15.3, [2002.34, 2002.38, 2002.43]), (15.4, [2002.23, 2002.43]),
    (15.5, [2003.03]), (14.9, [2003.26]), (15.0, [2003.30]),
    (14.6, [2003.13, 2003.17, 2003.21, 2003.26, 2003.30, 2003.34, 2003.38]), (14.7, [2003.15, 2003.20]),
    (14.5, [2003.24, 2003.28, 2003.32, 2003.36, 2003.45]), (14.4, [2003.34, 2003.45]),
    (15.0, [2004.04, 2004.08, 2004.13, 2004.40]), (14.7, [2004.12, 2004.44, 2004.48, 2004.52]),
    (15.4, [2004.17]), (14.6, [2004.25, 2004.29, 2004.34, 2004.42, 2004.46, 2004.50, 2004.55]),
    (14.5, [2004.26, 2004.42]), (14.4, [2004.42]), (14.9, [2004.42, 2004.46]),
]
wcom_red = [
    (13.2, [1998.33]), (13.4, [1998.23]), (13.6, [1998.27, 1998.31, 1998.36]),
    (13.8, [1998.23, 1998.27, 1998.31]), (13.9, [1998.33]),
    (14.0, [1998.21, 1998.25, 1998.29, 1998.33, 1998.36]), (14.1, [1998.36]),
    (14.5, [1998.19, 1998.23, 1998.27]), (14.6, [1998.27, 1998.31, 1998.36]), (14.7, [1998.21]),
    (15.1, [1998.81]), (15.3, [1998.87]), (14.0, [1999.00]), (14.3, [1998.97]), (14.4, [1999.06]),
    (14.5, [1998.91, 1998.95, 1998.97, 1999.22, 1999.26, 1999.31]), (14.6, [1999.03]),
    (14.7, [1998.97, 1999.01, 1999.04, 1999.21, 1999.28]), (14.8, [1999.12]), (14.9, [1999.27]),
    (15.0, [1999.16]),
    (14.8, [1999.82, 1999.96, 2000.24]), (14.4, [1999.85, 1999.90, 1999.96, 2000.08]),
    (14.6, [1999.97]), (14.5, [2000.05, 2000.22]), (15.0, [2000.00]),
    (14.2, [2000.91]), (14.5, [2000.88, 2001.22]), (14.4, [2000.93, 2001.07, 2001.23]),
    (14.6, [2001.09, 2001.23]), (14.7, [2001.23]),
    (14.8, [2000.96, 2001.00, 2001.04, 2001.08, 2001.12, 2001.16, 2001.20, 2001.39]),
    (15.0, [2001.17, 2001.21, 2001.25, 2001.30, 2001.34]),
    (15.0, [2001.85, 2001.89, 2001.93, 2001.97, 2002.13, 2002.17, 2002.21, 2002.25, 2002.30, 2002.34]),
    (14.7, [2001.93]), (14.8, [2002.05, 2002.09, 2002.13, 2002.27]), (14.6, [2002.27]), (15.2, [2002.20]),
    (15.0, [2002.84, 2002.88, 2002.92, 2003.05, 2003.21]), (15.2, [2002.95, 2003.13]),
    (14.8, [2003.00, 2003.13, 2003.32]), (14.6, [2003.21]), (14.5, [2003.27, 2003.34]),
    (14.4, [2003.22]), (14.7, [2003.15, 2003.30]),
    (15.1, [2004.14, 2004.29]), (15.0, [2004.29]), (14.7, [2004.31]),
]

# --- 3C 382 ---
c382_blue = [
    (13.94, [2004.05, 2004.10, 2004.11]), (14.10, [2004.05, 2004.09, 2004.14]), (14.25, [2004.13]),
    (14.41, [2004.04]), (14.58, [2004.06, 2004.15]),
    (14.90, [2004.02, 2004.04, 2004.16, 2004.18, 2004.21, 2004.24, 2004.28]),
    (15.05, [2004.04, 2004.17, 2004.25, 2004.29, 2004.30]),
    (15.21, [2004.30, 2004.36, 2004.38, 2004.40, 2004.42]),
    (15.37, [2004.31, 2004.34, 2004.38, 2004.42]), (15.54, [2004.44]),
]
c382_red = [
    (15.21, [2001.61]), (15.05, [2001.63, 2001.70]),
    (14.25, [2002.25, 2002.35, 2002.37, 2002.40]), (14.58, [2002.26, 2002.43, 2002.50]),
    (13.94, [2002.30]), (14.10, [2002.40]), (14.74, [2002.37]), (15.05, [2002.56, 2002.59]),
    (15.21, [2002.66]), (15.70, [2002.67]),
    (14.25, [2003.12, 2003.53]), (13.94, [2003.12, 2003.16, 2003.18, 2003.24, 2003.28, 2003.33]),
    (13.62, [2003.20, 2003.27, 2003.39]), (14.58, [2003.46, 2003.49]), (14.74, [2003.43, 2003.46]),
    (14.90, [2003.55, 2003.62]), (15.05, [2003.64]), (15.21, [2003.59, 2003.64, 2003.70]),
    (15.37, [2003.65]), (15.70, [2003.67]),
    (14.25, [2004.06]), (14.41, [2004.15, 2004.40, 2004.44]), (14.58, [2004.07, 2004.15, 2004.24, 2004.46]),
    (14.74, [2004.16, 2004.21, 2004.24]), (14.90, [2004.09, 2004.14, 2004.33]),
    (15.05, [2004.48, 2004.55, 2004.57]), (15.37, [2004.55, 2004.60, 2004.64, 2004.67]),
    (15.70, [2004.60, 2004.67, 2004.69]),
]

names = ["BL Lac", "Markarian 421", "S5 0716", "W Com", "3C 382"]
letters = ["a", "b", "c", "d", "e"]
year_labels = [
    [1992, 1994, 1996, 1998, 2000, 2002, 2004],
    [1994, 1996, 1998, 2000, 2002, 2004],
    [1998, 2000, 2002, 2004],
    [1992, 1994, 1996, 1998, 2000, 2002, 2004],
    [2001, 2002, 2003, 2004],
]
mag_labels = [[13, 14, 15, 16], [12, 13, 14, 15], [12, 13, 14, 15], [13, 14, 15, 16], [13, 14, 15, 16]]
series = [
    (bllac_blue, bllac_red), (mrk421_blue, mrk421_red), (s50716_blue, s50716_red),
    (wcom_blue, wcom_red), (c382_blue, c382_red),
]


def expand(rows):
    t, m = [], []
    for mag, dates in rows:
        t.extend(dates)
        m.extend([mag] * len(dates))
    return np.array(t), np.array(m)


# ---------------------------------------------------------------------------
# Figure layout (pixel geometry)
# ---------------------------------------------------------------------------
W, H = 678, 1863
fig = plt.figure(figsize=(W / 100, H / 100), dpi=100)

ax_left, ax_right = 98.6, 652.0
ax_tops = [27.7, 399.0, 769.3, 1140.0, 1511.7]
ax_bottoms = [304.3, 674.3, 1046.0, 1417.3, 1787.3]
xlims = [(1992.22, 2005.24), (1992.77, 2005.0), (1997.42, 2005.29), (1992.0, 2005.0), (2001.0, 2005.0)]
ylims = [(16.5, 12.0), (15.0, 11.5), (15.5, 11.5), (16.5, 12.5), (16.5, 12.5)]
year_ticks = [(1993, 2005), (1993, 2005), (1998, 2005), (1992, 2005), (2001, 2005)]
datum_y = [351, 721.7, 1093.3, 1464, 1835]
letter_y = [346, 716.7, 1090.7, 1461.7, 1835]
separators = [8.3, 378.7, 749.0, 1120.5, 1491.3]

BLUE = "#2b5c95"
RED = "#e8000b"
SPINE = "#222222"
FS = 13

for sy in separators:
    fig.add_artist(Line2D([8.6 / W, 1.0], [1 - sy / H, 1 - sy / H],
                          transform=fig.transFigure, color="#6e6e6e", lw=1.0))
fig.add_artist(Line2D([8.6 / W, 8.6 / W], [1 - separators[0] / H, 0.0],
                      transform=fig.transFigure, color="#6e6e6e", lw=1.0))

for i in range(5):
    top, bot = ax_tops[i], ax_bottoms[i]
    ax = fig.add_axes([ax_left / W, 1 - bot / H, (ax_right - ax_left) / W, (bot - top) / H])

    blue_rows, red_rows = series[i]
    tb, mb = expand(blue_rows)
    tr, mr = expand(red_rows)
    ax.plot(tb, mb, ls="none", marker="o", ms=3.4, mew=0, color=BLUE, zorder=3)
    ax.plot(tr, mr, ls="none", marker="o", ms=3.4, mew=0, color=RED, zorder=4)

    ax.set_xlim(*xlims[i])
    ax.set_ylim(*ylims[i])

    # x axis: ticks at year boundaries, labels centred in the year
    y0, y1 = year_ticks[i]
    ax.set_xticks(np.arange(y0, y1 + 1))
    ax.set_xticklabels([])
    ax.set_xticks([y + 0.5 for y in year_labels[i]], minor=True)
    ax.set_xticklabels([str(y) for y in year_labels[i]], minor=True, fontsize=FS)
    ax.tick_params(axis="x", which="major", direction="out", length=5, width=0.9, color=SPINE)
    ax.tick_params(axis="x", which="minor", length=0, pad=4)

    # y axis: integer magnitudes labelled, half magnitudes as minor ticks
    lo, hi = ylims[i]
    ax.set_yticks(mag_labels[i])
    ax.set_yticklabels([str(v) for v in mag_labels[i]], fontsize=FS)
    ax.set_yticks(np.arange(np.ceil(hi) - 0.5, lo + 0.01, 1.0), minor=True)
    ax.tick_params(axis="y", which="both", direction="out", length=5, width=0.9,
                   color=SPINE, pad=3.5)

    for sp in ax.spines.values():
        sp.set_linewidth(1.5)
        sp.set_color(SPINE)

    ax.text(0.023, 0.934, names[i], transform=ax.transAxes, fontsize=FS,
            ha="left", va="center", color="#111111")

    fig.text(47.5 / W, 1 - (top + bot) / 2 / H, "Helligkeit [mag]", rotation=90,
             ha="center", va="center", fontsize=FS, color="#111111")
    fig.text((ax_left + ax_right) / 2 / W, 1 - datum_y[i] / H, "Datum",
             ha="center", va="center", fontsize=FS, color="#111111")
    fig.text(24 / W, 1 - letter_y[i] / H, letters[i], ha="left", va="center",
             fontsize=15, color="#111111",
             family=["Liberation Sans Narrow", "Liberation Sans", "DejaVu Sans"])

fig.savefig("out.png", dpi=100)
